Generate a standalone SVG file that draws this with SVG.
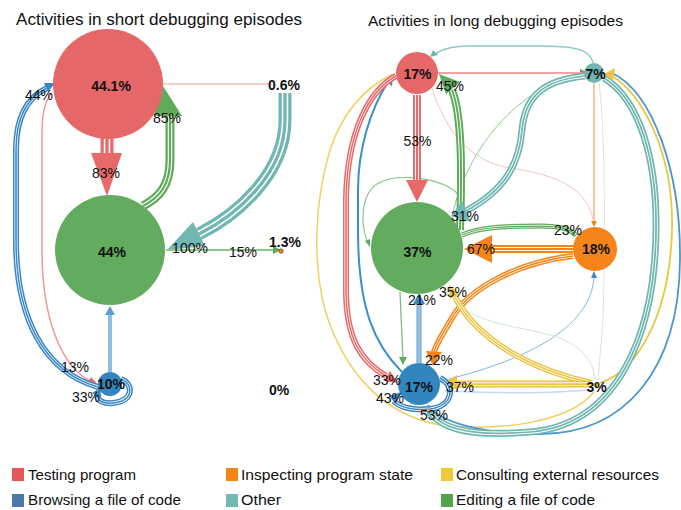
<svg xmlns="http://www.w3.org/2000/svg" xmlns:xlink="http://www.w3.org/1999/xlink" width="681" height="510" viewBox="0 0 681 510">
<style>
text{font-family:"Liberation Sans",Arial,sans-serif;fill:#111}
.title{font-size:17px}
.nl{font-size:14px;font-weight:bold;text-anchor:middle}
.el{font-size:14px;text-anchor:middle}
.lg{font-size:15px}
path{fill:none}
.red{stroke:#E8696A}.grn{stroke:#5FAA5B}.blu{stroke:#3B87C4}.tea{stroke:#70B6B1}.org{stroke:#F58518}.yel{stroke:#EDC444}.lbl{stroke:#5A9ED2}
.gap{stroke:#fff}
</style>
<defs>
<path id="L1" d="M107 138L107 155"/>
<path id="L2" d="M143 206C160 197 170 185 170 160L170 116"/>
<path id="L3" d="M98 387C45 372 16 320 16 240L16 150C16 115 28 97 47 88"/>
<path id="L5" d="M121 379C134 384 134 401 113 403C101 404 95 399 99 393"/>
<path id="L8" d="M285 93L285 120C285 175 235 216 199 234"/>
<path id="E1" d="M417 95L417 181"/>
<path id="E2" d="M460 230C462 170 462 115 452 90"/>
<path id="E5" d="M585 76C545 80 525 95 522 130C519 165 505 190 466 211"/>
<path id="E9" d="M573 249L490 249"/>
<path id="E10" d="M462 235C480 227 505 226 540 226C560 226 572 229 576 236"/>
<path id="E11" d="M573 256C520 262 470 287 452 318C442 335 436 344 434 352"/>
<path id="E13" d="M419 363L419 303"/>
<path id="E14" d="M592 383C540 372 480 345 455 297"/>
<path id="E15" d="M590 384L455 384"/>
<path id="E20" d="M396 76C370 90 347 130 346 200L346 290C346 340 362 362 386 376"/>
<path id="E24" d="M440 378C456 386 453 406 430 409C410 411 398 406 394 401"/>
<path id="E25" d="M604 78C640 100 657 160 656 230C655 330 620 425 530 432C480 436 445 432 432 414"/>
</defs>

<text class="title" x="16" y="25" textLength="286" lengthAdjust="spacingAndGlyphs">Activities in short debugging episodes</text>
<text class="title" x="368" y="26" style="font-size:15.5px" textLength="255" lengthAdjust="spacingAndGlyphs">Activities in long debugging episodes</text>

<g id="connectors">
  <!-- left panel -->
  <path d="M163 84L272 84" stroke="#F6BCBC" stroke-width="1.5"/>
  <path d="M52 93C44 102 42 115 42 135L42 250C42 320 62 368 92 382" stroke="#EE9A9A" stroke-width="1.5"/>
  <polygon points="98,385 87,385 91,377" fill="#E8696A"/>
  <use href="#L1" class="red" stroke-width="13"/><use href="#L1" class="gap" stroke-width="6.5"/><use href="#L1" class="red" stroke-width="3.25"/>
  <polygon points="91,153 122,153 107,196" fill="#E8696A"/>
  <use href="#L2" class="grn" stroke-width="9"/><use href="#L2" class="gap" stroke-width="4.5"/><use href="#L2" class="grn" stroke-width="2.25"/>
  <polygon points="154,116 182,116 163,86" fill="#5FAA5B"/>
  <use href="#L3" class="blu" stroke-width="6"/><use href="#L3" class="gap" stroke-width="3"/><use href="#L3" class="blu" stroke-width="1.5"/>
  <polygon points="55,83 48,92 44,83" fill="#3B87C4"/>
  <use href="#L5" class="blu" stroke-width="6"/><use href="#L5" class="gap" stroke-width="3"/><use href="#L5" class="blu" stroke-width="1.5"/>
  <polygon points="103,386 92,393 99,398" fill="#3B87C4"/>
  <path d="M110 372L110 313" stroke="#8DBEDF" stroke-width="4"/>
  <polygon points="110,306 105,315 115,315" fill="#5A9ED2"/>
  <use href="#L8" class="tea" stroke-width="13"/><use href="#L8" class="gap" stroke-width="6.5"/><use href="#L8" class="tea" stroke-width="3.25"/>
  <polygon points="167,250 193,222 205,246" fill="#70B6B1"/>
  <path d="M166 250L275 250" stroke="#8DC88A" stroke-width="2"/>
  <polygon points="281,250 273,246 273,254" fill="#5FAA5B"/>

  <!-- right panel thin -->
  <path d="M393 74C370 85 345 105 330 150C315 200 312 260 325 310C345 375 385 415 440 425C500 432 570 422 594 392" stroke="#F2D060" stroke-width="1.5"/>
  <path d="M428 405C440 422 480 434 540 434C625 434 679 370 680 260C681 170 652 92 612 73" stroke="#4A96D0" stroke-width="1.8"/>
  <path d="M600 383C640 370 670 310 672 230C674 150 640 92 612 76" stroke="#E8C840" stroke-width="1.8"/>
  <path d="M599 83C606 140 605 250 603 320L598 380" stroke="#E0E0E0" stroke-width="1"/>
  <path d="M432 88C445 130 470 162 510 168C560 175 590 190 594 225" stroke="#F6C4C4" stroke-width="1"/>
  <path d="M450 228C460 160 510 90 582 73" stroke="#92C98F" stroke-width="1"/>
  <polygon points="587,72 580,69 580,76" fill="#5FAA5B"/>
  <path d="M438 73L583 73" stroke="#F0A3A3" stroke-width="2"/>
  <polygon points="588,73 581,70 581,76" fill="#E8696A"/>
  <path d="M593 63C590 48 570 46 540 46L470 46C450 46 440 50 434 55" stroke="#8CC8C4" stroke-width="1.3"/>
  <polygon points="430,57 438,55 433,50" fill="#70B6B1"/>
  <path d="M594 83L594 222" stroke="#F9B57C" stroke-width="1.5"/>
  <polygon points="594,227 591,221 597,221" fill="#F58518"/>
  <path d="M400 292L403 360" stroke="#7DBF7A" stroke-width="1.3"/>
  <polygon points="403,365 399,357 407,357" fill="#5FAA5B"/>
  <path d="M445 391C500 394 550 393 590 390" stroke="#C3DAF0" stroke-width="1.5"/>
  <path d="M441 381C520 362 592 330 594 276" stroke="#84B8DE" stroke-width="1"/>
  <polygon points="594,271 591,278 597,278" fill="#3B87C4"/>
  <path d="M455 298C470 325 520 325 560 338C585 348 594 365 595 379" stroke="#D3E8D0" stroke-width="1"/>
  <path d="M460 197C450 180 400 170 377 184C360 195 361 225 367 241" stroke="#8CC68A" stroke-width="1.2"/>
  <polygon points="370,247 370,239 365,241" fill="#5FAA5B"/>
  <path d="M402 372C375 345 358 310 358 230L358 190C358 150 370 110 388 82" stroke="#3B8ED0" stroke-width="2"/>
  <polygon points="393,76 392,86 385,81" fill="#3B87C4"/>

  <!-- right panel triple -->
  <use href="#E25" class="tea" stroke-width="7"/><use href="#E25" class="gap" stroke-width="3.5"/><use href="#E25" class="tea" stroke-width="1.75"/>
  <polygon points="425,406 436,410 428,417" fill="#70B6B1"/>
  <use href="#E20" class="red" stroke-width="6"/><use href="#E20" class="gap" stroke-width="3"/><use href="#E20" class="red" stroke-width="1.5"/>
  <polygon points="398,383 384,381 390,371" fill="#E8696A"/>
  <use href="#E1" class="red" stroke-width="8"/><use href="#E1" class="gap" stroke-width="4"/><use href="#E1" class="red" stroke-width="2"/>
  <polygon points="406,180 428,180 417,202" fill="#E8696A"/>
  <use href="#E2" class="grn" stroke-width="8"/><use href="#E2" class="gap" stroke-width="4"/><use href="#E2" class="grn" stroke-width="2"/>
  <polygon points="439,74 460,82 446,94" fill="#5FAA5B"/>
  <use href="#E5" class="tea" stroke-width="7"/><use href="#E5" class="gap" stroke-width="3.5"/><use href="#E5" class="tea" stroke-width="1.75"/>
  <polygon points="451,216 462,201 471,222" fill="#70B6B1"/>
  <use href="#E10" class="grn" stroke-width="5"/><use href="#E10" class="gap" stroke-width="2.5"/><use href="#E10" class="grn" stroke-width="1.25"/>
  <use href="#E9" class="org" stroke-width="8"/><use href="#E9" class="gap" stroke-width="4"/><use href="#E9" class="org" stroke-width="2"/>
  <polygon points="464,249 492,235 492,263" fill="#F58518"/>
  <use href="#E11" class="org" stroke-width="6"/><use href="#E11" class="gap" stroke-width="3"/><use href="#E11" class="org" stroke-width="1.5"/>
  <polygon points="426,351 442,352 433,366" fill="#F58518"/>
  <use href="#E13" class="lbl" stroke-width="5"/><use href="#E13" class="gap" stroke-width="2.5"/><use href="#E13" class="lbl" stroke-width="1.25"/>
  <polygon points="419,293 413,304 425,304" fill="#3B87C4"/>
  <use href="#E14" class="yel" stroke-width="6"/><use href="#E14" class="gap" stroke-width="3"/><use href="#E14" class="yel" stroke-width="1.5"/>
  <polygon points="449,285 460,294 450,299" fill="#EDC444"/>
  <use href="#E15" class="yel" stroke-width="7"/><use href="#E15" class="gap" stroke-width="3.5"/><use href="#E15" class="yel" stroke-width="1.75"/>
  <polygon points="443,383 457,375 457,390" fill="#EDC444"/>
  <use href="#E24" class="blu" stroke-width="6"/><use href="#E24" class="gap" stroke-width="3"/><use href="#E24" class="blu" stroke-width="1.5"/>
  <polygon points="401,392 389,396 396,404" fill="#3B87C4"/>
  <polygon points="604,74 615,68 613,81" fill="#EDC444"/>
</g>

<!-- left nodes -->
<g id="s-testing"><circle cx="108" cy="84" r="55" fill="#E66767"/><text class="nl" x="111" y="91">44.1%</text></g>
<g id="s-editing"><circle cx="110" cy="250" r="55" fill="#62AB5F"/><text class="nl" x="112" y="257">44%</text></g>
<g id="s-browsing"><circle cx="110" cy="384" r="12" fill="#3286C0"/><text class="nl" x="111" y="389">10%</text></g>
<g id="s-other"><text class="nl" x="284" y="90">0.6%</text></g>
<g id="s-inspecting"><circle cx="281" cy="251" r="2.2" fill="#F58518" stroke="#333" stroke-width="0.6"/><text class="nl" x="285" y="247">1.3%</text></g>
<g id="s-consulting"><text class="nl" x="279" y="395">0%</text></g>

<!-- right nodes -->
<g id="l-testing"><circle cx="417" cy="73" r="21" fill="#E66767"/><text class="nl" x="417.5" y="79">17%</text></g>
<g id="l-other"><circle cx="594" cy="73" r="10" fill="#71B6B1"/><text class="nl" x="595.5" y="79">7%</text></g>
<g id="l-editing"><circle cx="417" cy="248" r="46" fill="#62AB5F"/><text class="nl" x="417.5" y="257">37%</text></g>
<g id="l-inspecting"><circle cx="595" cy="249" r="22" fill="#F5841A"/><text class="nl" x="596" y="254">18%</text></g>
<g id="l-browsing"><circle cx="419" cy="384" r="21" fill="#3286C0"/><text class="nl" x="419" y="392">17%</text></g>
<g id="l-consulting"><circle cx="596" cy="385" r="2.5" fill="#EDC444"/><text class="nl" x="596.5" y="392">3%</text></g>

<g id="edge-labels">
  <text class="el" x="39" y="100">44%</text>
  <text class="el" x="167" y="123">85%</text>
  <text class="el" x="106" y="178">83%</text>
  <text class="el" x="190" y="253">100%</text>
  <text class="el" x="243" y="257">15%</text>
  <text class="el" x="75" y="372">13%</text>
  <text class="el" x="86" y="402">33%</text>
  <text class="el" x="450" y="91">45%</text>
  <text class="el" x="417.5" y="146">53%</text>
  <text class="el" x="465" y="221">31%</text>
  <text class="el" x="568" y="235">23%</text>
  <text class="el" x="481" y="254">67%</text>
  <text class="el" x="453" y="297">35%</text>
  <text class="el" x="422" y="305">21%</text>
  <text class="el" x="439" y="365">22%</text>
  <text class="el" x="387" y="385">33%</text>
  <text class="el" x="460" y="392">37%</text>
  <text class="el" x="390" y="403">43%</text>
  <text class="el" x="434" y="420">53%</text>
</g>

<g id="legend">
  <rect x="12" y="468" width="12" height="13" fill="#E45756"/>
  <text class="lg" x="28" y="480" textLength="108" lengthAdjust="spacingAndGlyphs">Testing program</text>
  <rect x="226" y="468" width="12" height="13" fill="#F58518"/>
  <text class="lg" x="241" y="480" textLength="172" lengthAdjust="spacingAndGlyphs">Inspecting program state</text>
  <rect x="441" y="468" width="12" height="13" fill="#EECA3B"/>
  <text class="lg" x="456" y="480" textLength="203" lengthAdjust="spacingAndGlyphs">Consulting external resources</text>
  <rect x="12" y="494" width="12" height="13" fill="#4C78A8"/>
  <text class="lg" x="28" y="505" textLength="153" lengthAdjust="spacingAndGlyphs">Browsing a file of code</text>
  <rect x="226" y="494" width="12" height="13" fill="#72B7B2"/>
  <text class="lg" x="241" y="505" textLength="40" lengthAdjust="spacingAndGlyphs">Other</text>
  <rect x="441" y="494" width="12" height="13" fill="#54A24B"/>
  <text class="lg" x="456" y="505" textLength="139" lengthAdjust="spacingAndGlyphs">Editing a file of code</text>
</g>
</svg>
